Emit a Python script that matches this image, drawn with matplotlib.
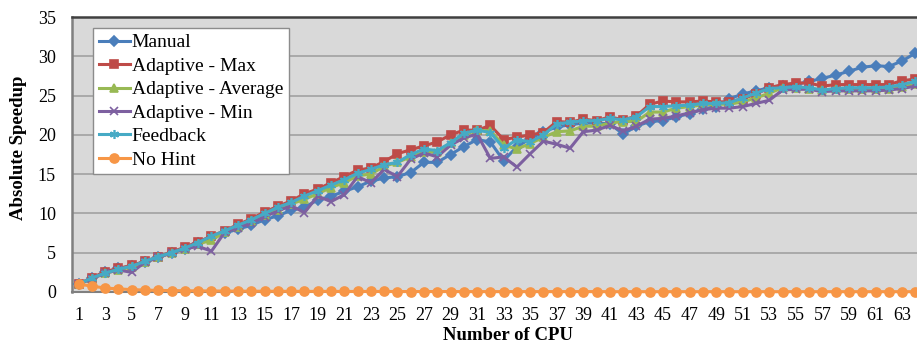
import matplotlib
matplotlib.use("Agg")
import matplotlib.pyplot as plt
import numpy as np

cpus = list(range(1, 65))

manual = [1.0, 1.8, 2.5, 3.0, 3.3, 3.8, 4.4, 5.0, 5.5, 6.2, 6.9, 7.5, 8.0, 8.5, 9.2, 9.7,
          10.4, 10.8, 11.7, 12.2, 12.8, 13.4, 14.1, 14.5, 14.7, 15.2, 16.5, 16.5, 17.5, 18.5, 19.4, 19.1,
          16.7, 18.5, 19.5, 20.4, 21.0, 21.3, 21.5, 21.5, 21.4, 20.1, 21.1, 21.7, 21.8, 22.3, 22.7, 23.3,
          23.6, 24.6, 25.2, 25.6, 26.0, 26.2, 26.4, 26.8, 27.2, 27.6, 28.1, 28.6, 28.8, 28.7, 29.4, 30.4]
adaptive_max = [1.0, 1.8, 2.6, 3.0, 3.4, 3.9, 4.5, 5.1, 5.7, 6.4, 7.1, 7.8, 8.6, 9.3, 10.2, 10.9,
                11.6, 12.5, 13.1, 13.9, 14.7, 15.5, 15.8, 16.6, 17.6, 18.1, 18.6, 19.1, 20.0, 20.6, 20.6, 21.2,
                19.4, 19.7, 20.0, 20.3, 21.7, 21.6, 22.0, 21.8, 22.3, 21.9, 22.4, 23.9, 24.3, 24.2, 24.2, 24.3,
                24.2, 24.2, 24.6, 25.2, 26.0, 26.4, 26.6, 26.6, 26.2, 26.4, 26.4, 26.4, 26.4, 26.4, 26.9, 27.1]
adaptive_avg = [1.0, 1.7, 2.4, 2.8, 3.2, 3.8, 4.4, 5.0, 5.5, 6.1, 6.6, 7.6, 8.3, 9.0, 9.8, 10.5,
                11.2, 11.8, 12.5, 13.3, 13.9, 14.8, 15.0, 16.0, 16.5, 17.2, 17.8, 17.8, 19.0, 20.0, 20.6, 20.5,
                18.7, 18.2, 18.9, 19.7, 20.4, 20.5, 21.1, 21.1, 21.5, 21.7, 21.7, 22.9, 22.9, 23.4, 23.6, 23.8,
                23.9, 23.9, 24.2, 24.7, 25.3, 26.0, 26.0, 25.9, 25.7, 25.8, 25.8, 25.8, 25.8, 25.8, 26.1, 26.5]
adaptive_min = [1.0, 1.7, 2.4, 2.8, 2.5, 3.8, 4.4, 5.0, 5.5, 5.8, 5.2, 7.6, 8.2, 8.8, 9.6, 10.3,
                11.0, 10.1, 12.2, 11.5, 12.4, 14.7, 13.9, 15.6, 14.7, 16.9, 17.7, 17.2, 18.7, 19.6, 20.1, 17.0,
                17.2, 15.9, 17.6, 19.2, 18.8, 18.3, 20.4, 20.6, 21.2, 20.5, 21.1, 22.0, 22.1, 22.4, 22.8, 23.2,
                23.4, 23.4, 23.6, 24.0, 24.4, 25.7, 25.8, 25.8, 25.5, 25.6, 25.6, 25.6, 25.6, 25.7, 25.9, 26.2]
feedback = [1.0, 1.8, 2.4, 2.9, 3.3, 3.9, 4.5, 5.0, 5.6, 6.3, 7.1, 7.8, 8.5, 9.2, 10.0, 10.8,
            11.4, 12.2, 12.9, 13.6, 14.3, 15.1, 15.6, 16.2, 16.5, 17.5, 18.2, 18.0, 19.0, 20.2, 20.6, 20.3,
            18.3, 19.4, 19.1, 20.0, 21.4, 21.6, 21.8, 21.8, 22.1, 21.9, 22.3, 23.6, 23.6, 23.7, 23.8, 24.0,
            24.0, 24.1, 24.7, 25.3, 25.9, 26.0, 26.1, 26.0, 25.7, 25.9, 26.0, 26.0, 26.0, 26.1, 26.4, 26.8]
no_hint = [1.0, 0.75, 0.5, 0.4, 0.3, 0.25, 0.2, 0.18, 0.16, 0.14, 0.13, 0.12, 0.11, 0.1, 0.1, 0.09,
           0.09, 0.08, 0.08, 0.08, 0.07, 0.07, 0.07, 0.07, 0.06, 0.06, 0.06, 0.06, 0.06, 0.05, 0.05, 0.05,
           0.05, 0.05, 0.05, 0.05, 0.05, 0.05, 0.05, 0.05, 0.04, 0.04, 0.04, 0.04, 0.04, 0.04, 0.04, 0.04,
           0.04, 0.04, 0.04, 0.04, 0.04, 0.04, 0.04, 0.04, 0.04, 0.04, 0.04, 0.04, 0.04, 0.04, 0.04, 0.04]

series = [
    ("Manual", manual, "#4A7EBB", "D", 5.0),
    ("Adaptive - Max", adaptive_max, "#BE4B48", "s", 5.5),
    ("Adaptive - Average", adaptive_avg, "#98B954", "^", 6.0),
    ("Adaptive - Min", adaptive_min, "#7D60A0", "x", 6.0),
    ("Feedback", feedback, "#46AAC5", (6, 2, 0), 6.5),
    ("No Hint", no_hint, "#F79646", "o", 6.5),
]

plt.rcParams['font.family'] = ['Liberation Serif', 'DejaVu Serif']

W, H = 917, 345
fig = plt.figure(figsize=(W / 100, H / 100), dpi=100)
ax_left, ax_right, ax_top, ax_bottom = 72.0, 922.0, 17.0, 292.0
ax = fig.add_axes([ax_left / W, 1 - ax_bottom / H, (ax_right - ax_left) / W, (ax_bottom - ax_top) / H])
ax.set_facecolor("#D9D9D9")

for name, vals, color, marker, ms in series:
    ax.plot(cpus, vals, color=color, lw=2.2, marker=marker, markersize=ms,
            markerfacecolor=color, markeredgecolor=color, markeredgewidth=1.2,
            label=name, clip_on=False, zorder=3)

ax.set_xlim(0.5, 64.5)
ax.set_ylim(0, 35)
ax.set_yticks(np.arange(0, 36, 5))
ax.set_xticks(cpus[::2])
ax.set_xticklabels([str(c) for c in cpus[::2]])
ax.yaxis.grid(True, color="#A6A6A6", lw=1.3)
ax.set_axisbelow(True)
ax.tick_params(axis='both', length=0, labelsize=13, colors="black")
ax.tick_params(axis='y', pad=11.5)
ax.tick_params(axis='x', pad=11)

ax.spines["right"].set_visible(False)
ax.spines["top"].set_color("#404040")
ax.spines["top"].set_linewidth(1.8)
ax.spines["left"].set_color("#808080")
ax.spines["left"].set_linewidth(1.8)
ax.spines["bottom"].set_color("#808080")
ax.spines["bottom"].set_linewidth(1.5)

ax.set_ylabel("Absolute Speedup", fontsize=13.5, fontweight="bold")
ax.set_xlabel("Number of CPU", fontsize=13.5, fontweight="bold")
ax.yaxis.set_label_coords(-(ax_left - 19) / (ax_right - ax_left), (ax_bottom - 148) / (ax_bottom - ax_top))
ax.xaxis.set_label_coords((508 - ax_left) / (ax_right - ax_left), -(336 - ax_bottom) / (ax_bottom - ax_top))
ax.xaxis.label.set_va("center")
ax.yaxis.label.set_va("center")

leg = ax.legend(loc="upper left",
                bbox_to_anchor=((93 - ax_left) / (ax_right - ax_left), (ax_bottom - 28) / (ax_bottom - ax_top)),
                borderaxespad=0, fontsize=14, frameon=True, fancybox=False,
                handlelength=1.6, handletextpad=0.1, labelspacing=0.3,
                borderpad=0.3)
leg.get_frame().set_edgecolor("#8C8C8C")
leg.get_frame().set_linewidth(1.0)
leg.get_frame().set_facecolor("white")
leg.get_frame().set_alpha(1)
leg.set_zorder(5)

fig.savefig("out.png", dpi=100)
